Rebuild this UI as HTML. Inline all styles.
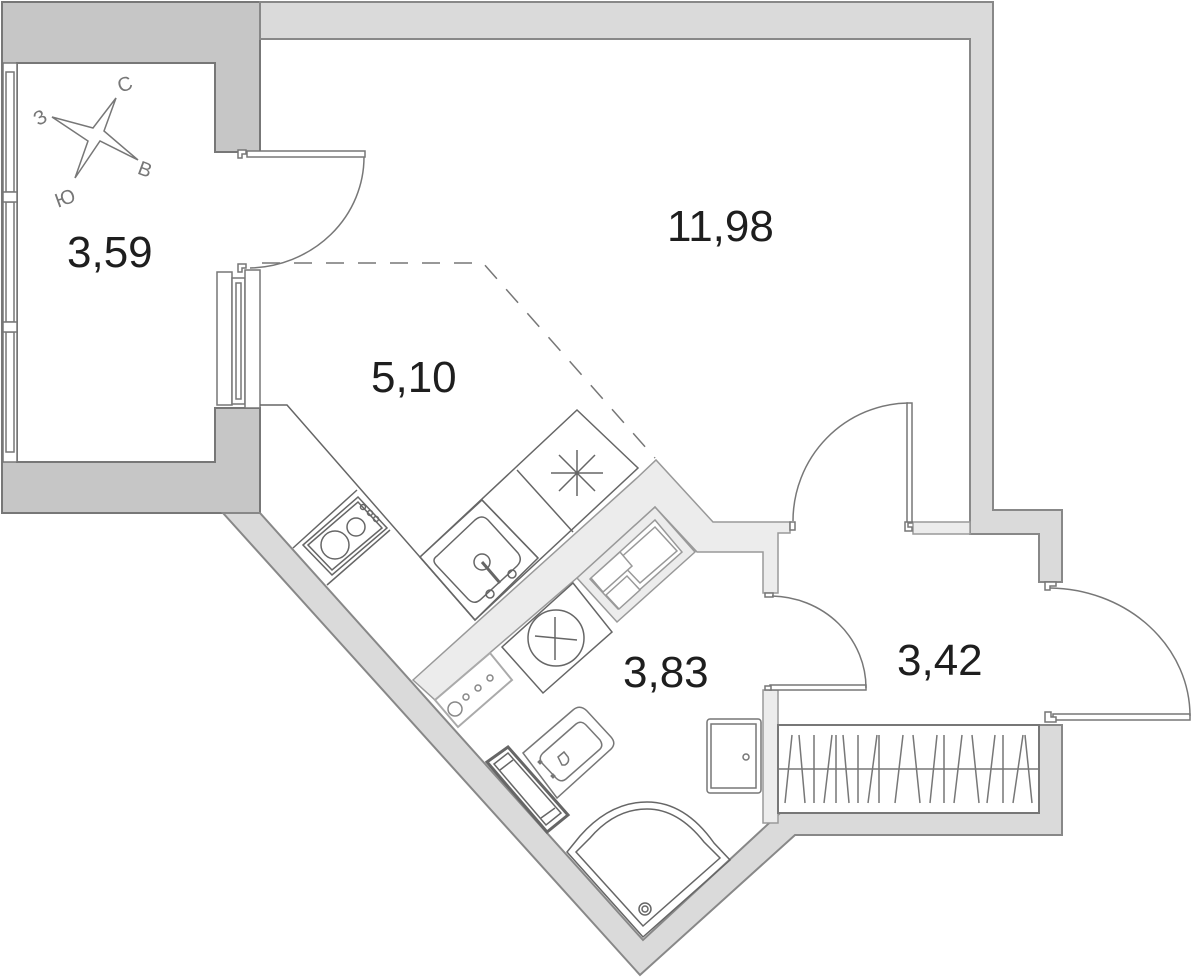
<!DOCTYPE html>
<html><head><meta charset="utf-8"><style>
html,body{margin:0;padding:0;background:#fff}
svg{display:block}
text{font-family:"Liberation Sans",sans-serif;fill:#1e1e1e}
</style></head><body>
<svg width="1191" height="978" viewBox="0 0 1191 978" xmlns="http://www.w3.org/2000/svg">
<path d="M2,2 H260 V152 H240 V152 H215 V63 H17 V462 H215 V408 H260 V513 H2 Z" fill="#c6c6c6" stroke="#777" stroke-width="2"/>
<g fill="#fff" stroke="#777" stroke-width="1.5">
<rect x="3" y="63" width="14" height="399"/>
<rect x="6" y="72" width="8" height="120"/>
<rect x="6" y="202" width="8" height="120"/>
<rect x="6" y="332" width="8" height="120"/>
<rect x="3" y="192" width="14" height="10"/>
<rect x="3" y="322" width="14" height="10"/>
</g>
<g fill="#fff" stroke="#777" stroke-width="1.5">
<rect x="217" y="272" width="15" height="133"/>
<rect x="232" y="278" width="13" height="126"/>
<rect x="236" y="283" width="5" height="116"/>
<rect x="245" y="270" width="15" height="138"/>
</g>
<path d="M260,2 H993 V510 H1062 V582 H1039 V534 H970 V39 H260 Z" fill="#dadada" stroke="#888" stroke-width="2"/>
<path d="M1039,725 H1062 V835 H795 L640,975 L223,513 H260 L643,940 L780,813 H1039 Z" fill="#dadada" stroke="#888" stroke-width="2"/>
<rect x="913" y="522" width="57" height="12" fill="#ececec" stroke="#999" stroke-width="1.5"/>
<rect x="763" y="690" width="15" height="133" fill="#ececec" stroke="#999" stroke-width="1.5"/>
<path d="M413,680 L638,477 L656,460 L713,522 L790,522 L790,533 L778,533 L778,593 L763,593 L763,552 L697,552 L655,507 L577,578 L435,700 Z" fill="#ececec" stroke="#999" stroke-width="1.5"/>
<path d="M577,578 L655,507 L695,552 L617,622 Z" fill="#ececec" stroke="#999" stroke-width="1.5"/>
<path d="M590,579 L655,520 L682,552 L618,609 Z" fill="#fff" stroke="#999" stroke-width="1.5"/>
<path d="M618,560 L655,527 L677,551 L640,583 Z" fill="#fff" stroke="#999" stroke-width="1.5"/>
<path d="M591,578 L620,552 L632,566 L603,592 Z" fill="#fff" stroke="#999" stroke-width="1.5"/>
<path d="M606,595 L627,576 L640,590 L619,609 Z" fill="#fff" stroke="#999" stroke-width="1.5"/>
<path d="M435,700 L490,653 L512,680 L458,727 Z" fill="#fff" stroke="#aaa" stroke-width="2"/>
<g fill="none" stroke="#888" stroke-width="1.5">
<circle cx="455" cy="709" r="7"/><circle cx="466" cy="697" r="3"/><circle cx="478" cy="688" r="3"/><circle cx="490" cy="678" r="3"/>
</g>
<g fill="none" stroke="#666" stroke-width="1.5">
<path d="M502,647 L573,583 L612,632 L543,693 Z" fill="#fff"/>
<circle cx="556" cy="638" r="28"/>
<path d="M535,636 L577,640 M555,617 L555,660"/>
</g>
<g fill="none" stroke="#666" stroke-width="1.5">
<path d="M260,405 H287 L475,620"/>
<path d="M293,548 L357,490 M327,585 L390,530"/>
<path d="M303,545 L358,497 L387,528 L332,575 Z"/>
<path d="M308,545 L358,502 L382,528 L332,570 Z"/>
<circle cx="335" cy="545" r="14"/><circle cx="356" cy="527" r="9"/>
<circle cx="363" cy="507" r="2.5"/><circle cx="370" cy="513" r="2.5"/><circle cx="376" cy="519" r="2.5"/>
<path d="M420,557 L577,410 L638,468 L475,620 Z" fill="#fff"/>
<path d="M482,500 L538,558 M517,470 L573,532"/>
<path d="M420,557 L482,500 L538,558 L475,620 Z"/>
<path d="M437,556 L475,520 Q482,514 488,520 L518,553 Q523,560 517,566 L480,600 Q474,605 468,599 L437,566 Q431,560 437,556 Z"/>
<circle cx="482" cy="562" r="8"/><circle cx="512" cy="574" r="4"/><circle cx="490" cy="594" r="4"/>
<path d="M482,562 L500,583" stroke-width="3"/>
<path d="M577,450 L577,496 M551,473 L603,473 M559,455 L595,491 M595,455 L559,491"/>
</g>
<g fill="none" stroke="#777" stroke-width="1.5">
<path d="M523,753 L573,710 Q580,704 587,711 L611,737 Q617,744 610,750 L557,798 Z"/>
<path d="M543,753 L576,724 Q581,720 586,725 L600,740 Q604,746 599,750 L566,779 Q561,783 556,778 L542,763 Q538,758 543,753 Z"/>
<path d="M558,757 L564,752 L568,757 Q570,762 565,765 L562,765 Z"/>
</g>
<rect x="538" y="760" width="4" height="4" fill="#777" transform="rotate(45 540 762)"/>
<rect x="551" y="774" width="4" height="4" fill="#777" transform="rotate(45 553 776)"/>
<g fill="none" stroke="#666">
<path d="M487,762 L508,747 L568,815 L547,832 Z" stroke-width="3"/>
<path d="M494,764 L508,753 L561,813 L546,825 Z" stroke-width="1.5"/>
<path d="M500,770 L513,760 M541,818 L555,808" stroke-width="1.5"/>
</g>
<g fill="none" stroke="#666" stroke-width="1.5">
<path d="M567,852 L643,937 L730,860 L714,843 Q685,802 647,802 Q610,802 580,836 Z"/>
<path d="M576,852 L643,926 L720,858 L704,842 Q678,809 647,809 Q615,809 590,838 Z"/>
<circle cx="645" cy="909" r="6"/><circle cx="645" cy="909" r="3"/>
</g>
<g fill="none" stroke="#777" stroke-width="1.5">
<rect x="707" y="719" width="54" height="74" rx="3"/>
<rect x="711" y="724" width="45" height="64"/>
<circle cx="746" cy="757" r="3"/>
</g>
<rect x="778" y="725" width="261" height="88" fill="#fff" stroke="#777" stroke-width="2"/>
<g stroke="#777" stroke-width="1.5" fill="none">
<path d="M778,769 H1039"/>
<path d="M792,735 L785,803 M799,735 L805,803 M814,735 L814,803 M832,735 L824,803 M836,735 L836,803 M843,735 L849,803 M858,735 L858,803 M877,735 L868,803 M879,735 L879,803 M903,735 L895,803 M913,735 L920,803 M937,735 L930,803 M944,735 L944,803 M962,735 L954,803 M972,735 L979,803 M995,735 L987,803 M1003,735 L1003,803 M1023,735 L1013,803 M1025,735 L1032,803"/>
</g>
<g fill="#fff" stroke="#777" stroke-width="1.5">
<rect x="247" y="151" width="118" height="6"/>
<rect x="907" y="403" width="5" height="120"/>
<rect x="770" y="685" width="96" height="5"/>
<rect x="1053" y="714" width="137" height="6"/>
<path d="M238,150 h8 v4 h-4 v4 h-4 Z"/>
<path d="M238,264 h8 v4 h-4 v4 h-4 Z"/>
<path d="M913,522 h-5 v5 h4 v4 h-7 v-9 Z"/>
<path d="M790,522 h5 v8 h-5 Z"/>
<path d="M1045,582 h11 v4 h-6 v4 h-5 Z"/>
<path d="M1045,712 h6 v5 h5 v5 h-11 Z"/>
<path d="M765,593 h8 v4 h-8 Z"/>
<path d="M765,686 h6 v4 h-6 Z"/>
</g>
<g fill="none" stroke="#777" stroke-width="1.5">
<path d="M364,157 A117,111 0 0 1 250,268"/>
<path d="M908,403 A117,118 0 0 0 793,521"/>
<path d="M866,688 A96,92 0 0 0 772,596"/>
<path d="M1190,716 A142,128 0 0 0 1050,588"/>
<path d="M262,263 H483 L655,458" stroke-dasharray="18,14"/>
</g>
<g fill="#fff" stroke="#777" stroke-width="1.5">
<path d="M116,98 L104,131 L138,160 L100,141 L75,178 L88,141 L52,117 L93,128 Z"/>
</g>
<g font-size="20">
<text x="117" y="90" transform="rotate(-20 127 82)" style="fill:#777">С</text>
<text x="33" y="123" transform="rotate(-30 42 115)" style="fill:#777">З</text>
<text x="139" y="177" transform="rotate(20 148 168)" style="fill:#777">В</text>
<text x="54" y="204" transform="rotate(-20 67 195)" style="fill:#777">Ю</text>
</g>
<g font-size="44">
<text x="667" y="241">11,98</text>
<text x="67" y="267">3,59</text>
<text x="371" y="392">5,10</text>
<text x="623" y="687">3,83</text>
<text x="897" y="675">3,42</text>
</g>
</svg>
</body></html>
